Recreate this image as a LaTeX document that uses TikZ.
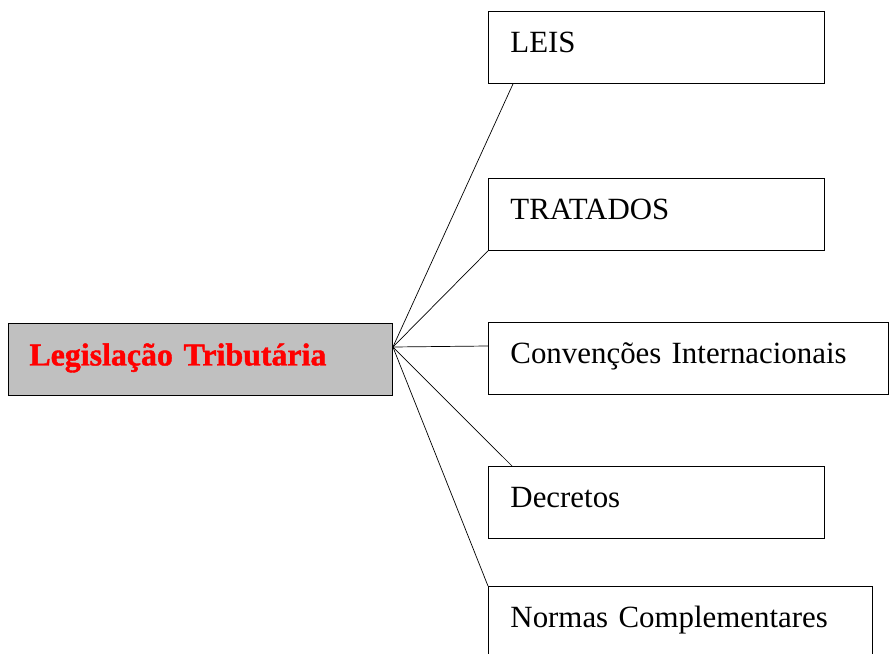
\documentclass[tikz,border=0pt]{standalone}
\usepackage{fontspec}
\setmainfont{Liberation Serif}
\newfontfamily\heavyfont[FakeBold=1.2,WordSpace=0.6]{Liberation Serif Bold}
\begin{document}
\begin{tikzpicture}[x=1bp,y=-1bp,
  box/.style={draw=black, line width=0.9bp, anchor=north west, inner xsep=22bp, inner ysep=0pt,
    text height=41bp, text depth=31bp, align=left, font=\fontsize{31}{36}\selectfont},
  conn/.style={draw=black, line width=0.7bp}]
\useasboundingbox (0,0) rectangle (889,654);
\node[box, fill={rgb,255:red,192;green,192;blue,192}, text width=340bp, text height=42bp, text depth=30bp,
  font=\heavyfont\fontsize{32}{36}\selectfont, text=red] (L) at (8,323) {\kern-1bp Legisla\c{c}\~ao Tribut\'aria};
\node[box, text width=292bp] (leis) at (488,11) {LEIS};
\node[box, text width=292bp] (trat) at (488,178) {TRATADOS};
\node[box, text width=356bp] (conv) at (488,322) {Conven\c{c}\~oes Internacionais};
\node[box, text width=292bp] (decr) at (488,466) {Decretos};
\node[box, text width=340bp] (norm) at (488,586) {Normas Complementares};
\coordinate (hub) at ([yshift=-24bp]L.north east);
\draw[conn] (hub) -- ([xshift=25bp]leis.south west);
\draw[conn] (hub) -- (trat.south west);
\draw[conn] (hub) -- ([yshift=-24bp]conv.north west);
\draw[conn] (hub) -- ([xshift=24bp]decr.north west);
\draw[conn] (hub) -- (norm.north west);
\end{tikzpicture}
\end{document}
